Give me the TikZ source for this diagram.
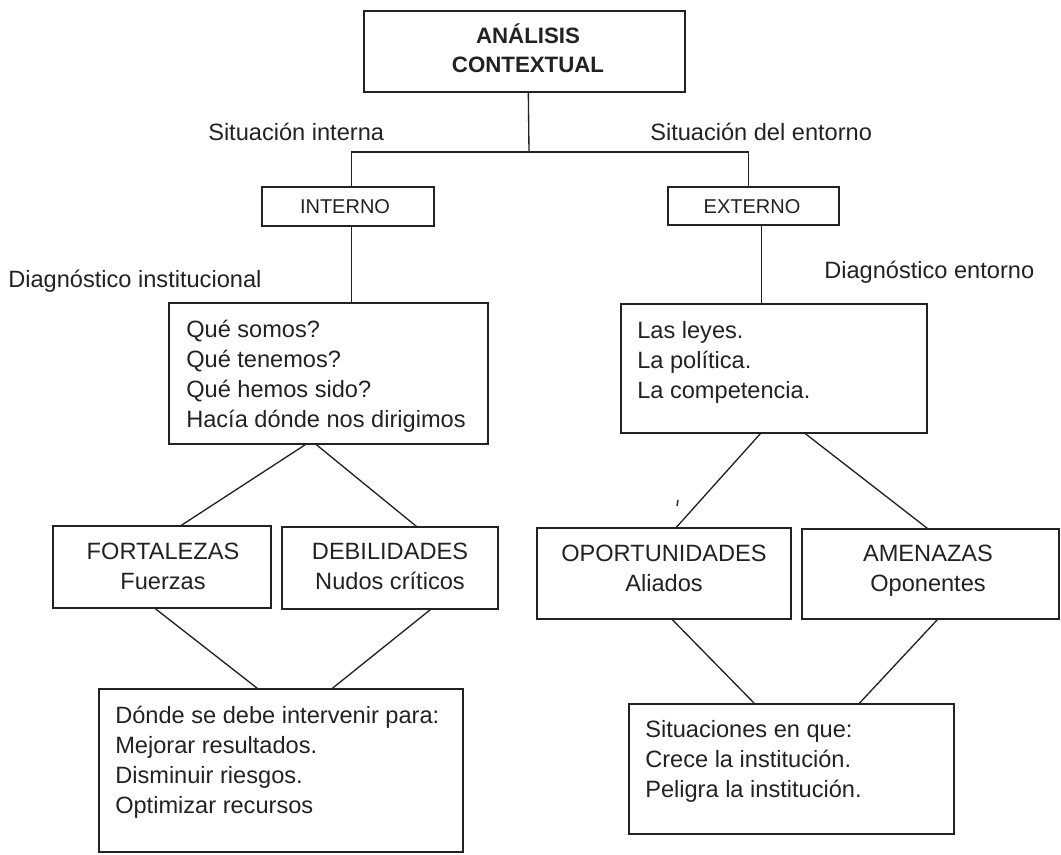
\documentclass[tikz,border=0pt]{standalone}
\usepackage{fontspec}
\setmainfont{Liberation Sans}
\usetikzlibrary{fit,calc}
\definecolor{ink}{HTML}{222222}
\newcommand\topstrut{\rule{0pt}{17pt}}
\begin{document}
\begin{tikzpicture}[x=0.75pt,y=-0.75pt,
  box/.style={draw=ink, line width=1pt, inner sep=0pt, rectangle},
  conn/.style={draw=ink, line width=1pt},
  txt/.style={text=ink, inner sep=0pt, font=\fontsize{17.7}{22.5}\selectfont},
  blocktxt/.style={txt, align=left, anchor=north west},
  centtxt/.style={txt, align=center, anchor=north},
  small/.style={text=ink, inner sep=0pt, font=\fontsize{15}{18}\selectfont, anchor=base},
  title/.style={text=ink, inner sep=0pt, font=\fontsize{16.7}{22}\selectfont\bfseries, align=center, anchor=north}]
\useasboundingbox (0,0) rectangle (1061,854);

% boxes
\node[box, fit={(364,11) (685,92)}] (top) {};
\node[box, fit={(262,187) (434,226)}] (interno) {};
\node[box, fit={(668,187) (839,225)}] (externo) {};
\node[box, fit={(169,303) (488,444)}] (q) {};
\node[box, fit={(621,304) (927,433)}] (leyes) {};
\node[box, fit={(53,526) (271,608)}] (fort) {};
\node[box, fit={(282,527) (498,609)}] (deb) {};
\node[box, fit={(537,528) (791,619)}] (opo) {};
\node[box, fit={(802,529) (1059,619)}] (ame) {};
\node[box, fit={(99,689) (463,852)}] (accion) {};
\node[box, fit={(629,704) (954,834)}] (sit) {};

% texts
\node[title] (ttitle) at (528,20.3) {\topstrut ANÁLISIS\\CONTEXTUAL};
\node[small] (tint) at (345,213) {INTERNO};
\node[small] (text) at (752,213) {EXTERNO};
\node[txt, anchor=base west] (lsi) at (208,140) {Situación interna};
\node[txt, anchor=base west] (lse) at (650,140) {Situación del entorno};
\node[txt, anchor=base west] (ldi) at (8,287) {Diagnóstico institucional};
\node[txt, anchor=base west] (lde) at (824,278) {Diagnóstico entorno};
\node[blocktxt] (tq) at (186,314.3) {\topstrut Qué somos?\\Qué tenemos?\\Qué hemos sido?\\Hacía dónde nos dirigimos};
\node[blocktxt] (tleyes) at (637,315.3) {\topstrut Las leyes.\\La política.\\La competencia.};
\node[centtxt] (tfort) at (163,536.3) {\topstrut FORTALEZAS\\Fuerzas};
\node[centtxt] (tdeb) at (390,536.3) {\topstrut DEBILIDADES\\Nudos críticos};
\node[centtxt] (topo) at (664,538.3) {\topstrut OPORTUNIDADES\\Aliados};
\node[centtxt] (tame) at (928,538.3) {\topstrut AMENAZAS\\Oponentes};
\node[blocktxt] (taccion) at (115,700.3) {\topstrut Dónde se debe intervenir para:\\Mejorar resultados.\\Disminuir riesgos.\\Optimizar recursos};
\node[blocktxt] (tsit) at (645,714.3) {\topstrut Situaciones en que:\\Crece la institución.\\Peligra la institución.};

% connectors
\coordinate (j) at (529,152);
\draw[conn] ($(top.south west)+(165,0)$) -- (j);
\draw[conn] ($(interno.north west)+(90,0)$) |- (j) -| ($(externo.north west)+(81,0)$);
\draw[conn] ($(interno.south west)+(90,0)$) coordinate (ib) -- (ib |- q.north);
\draw[conn] ($(externo.south west)+(94,0)$) coordinate (eb) -- (eb |- leyes.north);
\draw[conn] ($(q.south west)+(137,0)$) -- ($(fort.north west)+(129,0)$);
\draw[conn] ($(q.south west)+(148,0)$) -- ($(deb.north west)+(135,0)$);
\draw[conn] ($(fort.south west)+(103,0)$) -- ($(accion.north west)+(159,0)$);
\draw[conn] ($(deb.south west)+(149,0)$) -- ($(accion.north west)+(234,0)$);
\draw[conn] ($(leyes.south west)+(140,0)$) -- ($(opo.north west)+(140,0)$);
\draw[conn] ($(leyes.south west)+(185,0)$) -- ($(ame.north west)+(126,0)$);
\draw[conn] ($(opo.south west)+(136,0)$) -- ($(sit.north west)+(126,0)$);
\draw[conn] ($(ame.south west)+(136,0)$) -- ($(sit.north west)+(231,0)$);
% small stray mark
\draw[conn] (678,500) -- (677,506);
\end{tikzpicture}
\end{document}
